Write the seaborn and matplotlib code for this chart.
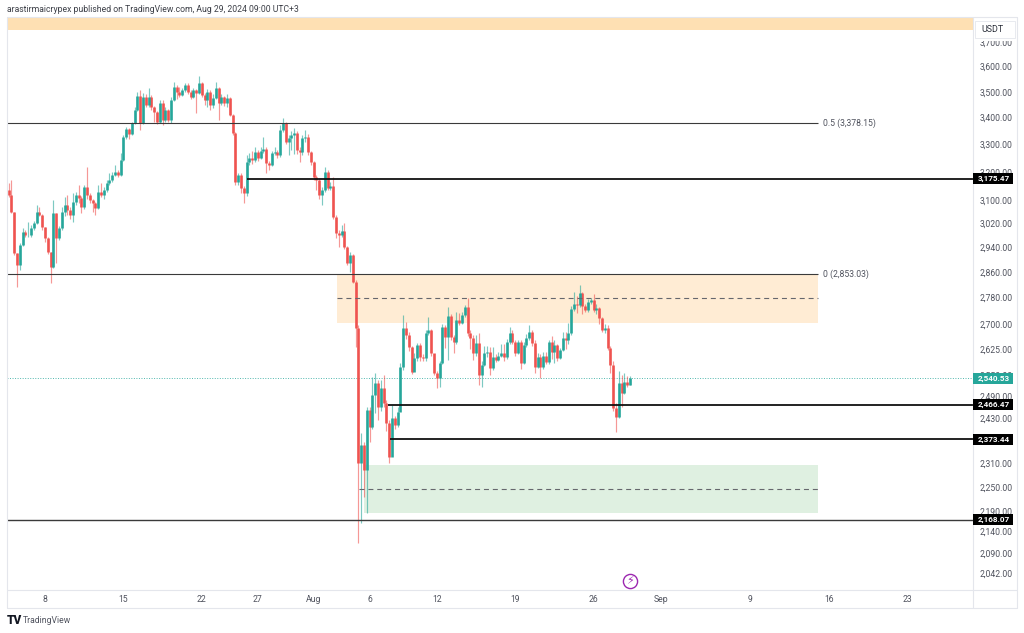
"""TradingView style ETH/USDT candlestick chart, 6h candles on a log scale"""
import pandas as pd
import matplotlib
matplotlib.use("Agg")
import matplotlib.pyplot as plt
import seaborn as sns
from matplotlib.lines import Line2D
from matplotlib.patches import Rectangle
from matplotlib.ticker import NullFormatter, NullLocator

first_open = 3136
closes = [
    3118, 3060, 2922, 2884, 2948, 2992, 2982, 2982, 3006, 3023,
    3060, 3050, 3009, 2972, 2926, 2878, 3057, 2972, 3006, 3060,
    3084, 3067, 3050, 3094, 3118, 3108, 3077, 3146, 3118, 3101,
    3091, 3074, 3129, 3118, 3136, 3160, 3171, 3189, 3200, 3189,
    3243, 3327, 3358, 3339, 3380, 3430, 3484, 3380, 3480, 3450,
    3480, 3441, 3422, 3385, 3456, 3391, 3430, 3391, 3468, 3519, 3500,
    3488, 3507, 3527, 3500, 3480, 3507, 3496, 3535, 3488, 3468,
    3500, 3450, 3476, 3515, 3456, 3480, 3456, 3476, 3411, 3343, 3164,
    3189, 3143, 3125, 3236, 3250, 3243, 3272, 3250, 3276, 3283,
    3232, 3225, 3268, 3272, 3261, 3354, 3380, 3309, 3324, 3335,
    3343, 3280, 3272, 3324, 3327, 3272, 3236, 3182, 3171, 3118,
    3136, 3200, 3143, 3150, 3043, 2989, 2982, 2995, 2942, 2890, 2916, 2830,
    2687, 2311, 2358, 2293, 2452, 2406, 2493, 2528, 2460, 2513,
    2471, 2417, 2327, 2430, 2411, 2447, 2573, 2687, 2666, 2631,
    2559, 2599, 2637, 2602, 2599, 2672, 2681, 2613, 2556, 2542,
    2584, 2690, 2660, 2724, 2660, 2646, 2712, 2703, 2727, 2751,
    2672, 2657, 2613, 2643, 2550, 2579, 2613, 2616, 2570, 2602, 2593, 2605,
    2613, 2602, 2646, 2672, 2646, 2613, 2646, 2584, 2637, 2657,
    2675, 2643, 2573, 2602, 2573, 2605, 2587, 2646, 2616, 2637,
    2599, 2622, 2657, 2652, 2672, 2745, 2761, 2758, 2795, 2755,
    2742, 2767, 2773, 2742, 2748, 2718, 2681, 2687, 2628, 2579,
    2457, 2433, 2528, 2499, 2530, 2521, 2540.53,
]
highs = [
    3160, 3171, 3060, 2922, 2955, 3006, 2998, 3026, 3015, 3030,
    3084, 3075, 3052, 3010, 2975, 2926, 3101, 3057, 3012, 3075,
    3112, 3118, 3075, 3125, 3129, 3153, 3115, 3153, 3218, 3125,
    3105, 3095, 3153, 3160, 3145, 3170, 3196, 3200, 3225, 3205,
    3268, 3335, 3365, 3360, 3385, 3440, 3500, 3507, 3495, 3490,
    3515, 3488, 3445, 3425, 3468, 3468, 3440, 3432, 3478, 3539, 3525,
    3519, 3515, 3535, 3535, 3505, 3515, 3510, 3562, 3540, 3495,
    3510, 3505, 3490, 3539, 3520, 3490, 3485, 3490, 3480, 3415, 3345,
    3196, 3195, 3150, 3260, 3268, 3275, 3290, 3280, 3290, 3327,
    3290, 3240, 3275, 3290, 3280, 3372, 3398, 3385, 3335, 3350,
    3361, 3350, 3290, 3335, 3354, 3340, 3275, 3240, 3190, 3178,
    3145, 3218, 3205, 3165, 3182, 3050, 3000, 3016, 3023, 2945, 2926, 2920,
    2835, 2695, 2389, 2365, 2460, 2460, 2545, 2556, 2535, 2536,
    2550, 2480, 2425, 2465, 2435, 2460, 2585, 2727, 2705, 2675,
    2635, 2613, 2643, 2643, 2610, 2680, 2721, 2685, 2602, 2560,
    2590, 2700, 2695, 2751, 2730, 2665, 2736, 2733, 2736, 2758,
    2779, 2680, 2665, 2665, 2672, 2590, 2635, 2635, 2631, 2632, 2610, 2615,
    2640, 2640, 2655, 2690, 2680, 2650, 2652, 2650, 2645, 2670,
    2696, 2680, 2650, 2612, 2610, 2615, 2615, 2652, 2663, 2650,
    2640, 2628, 2675, 2675, 2703, 2755, 2798, 2785, 2820, 2798,
    2760, 2775, 2780, 2792, 2760, 2750, 2722, 2700, 2695, 2635,
    2590, 2470, 2560, 2550, 2556, 2548, 2548,
]
lows = [
    3112, 3055, 2916, 2814, 2868, 2945, 2975, 2975, 2975, 3000,
    3018, 3045, 3000, 2960, 2920, 2826, 2875, 2890, 2965, 3000,
    3045, 3050, 3035, 3026, 3085, 3090, 3057, 3070, 3105, 3090,
    3060, 3050, 3070, 3110, 3105, 3130, 3155, 3165, 3185, 3182,
    3185, 3240, 3320, 3320, 3335, 3375, 3425, 3354, 3375, 3440,
    3440, 3430, 3385, 3375, 3380, 3372, 3385, 3385, 3380, 3465, 3470,
    3480, 3482, 3500, 3492, 3470, 3475, 3418, 3490, 3480, 3450,
    3441, 3430, 3437, 3470, 3391, 3450, 3445, 3441, 3405, 3335, 3155,
    3153, 3125, 3091, 3115, 3225, 3230, 3235, 3240, 3245, 3270,
    3196, 3208, 3220, 3262, 3250, 3255, 3345, 3300, 3261, 3280,
    3265, 3265, 3236, 3262, 3310, 3262, 3225, 3170, 3136, 3105,
    3084, 3130, 3135, 3136, 3035, 2972, 2942, 2975, 2935, 2885, 2862, 2825,
    2631, 2112, 2161, 2224, 2185, 2366, 2400, 2444, 2425, 2450,
    2460, 2395, 2311, 2340, 2400, 2405, 2500, 2565, 2655, 2620,
    2553, 2570, 2590, 2590, 2590, 2590, 2665, 2605, 2550, 2513,
    2515, 2580, 2628, 2593, 2650, 2613, 2640, 2695, 2698, 2720,
    2664, 2625, 2593, 2605, 2521, 2515, 2575, 2600, 2550, 2565, 2588, 2590,
    2600, 2590, 2597, 2640, 2640, 2605, 2610, 2567, 2580, 2630,
    2650, 2635, 2556, 2570, 2542, 2568, 2580, 2582, 2596, 2585,
    2590, 2595, 2618, 2625, 2640, 2665, 2740, 2733, 2750, 2730,
    2735, 2735, 2760, 2735, 2730, 2700, 2676, 2672, 2622, 2556,
    2450, 2392, 2430, 2460, 2495, 2515, 2520,
]
price_ticks = [3700, 3600, 3500, 3400, 3300, 3200, 3100, 3020, 2940, 2860, 2780, 2700,
               2625, 2550, 2490, 2430, 2310, 2250, 2190, 2140, 2090, 2042]
date_ticks = ["2024-07-08", "2024-07-15", "2024-07-22", "2024-07-27", "2024-08-01", "2024-08-06",
              "2024-08-12", "2024-08-19", "2024-08-26", "2024-09-01", "2024-09-09", "2024-09-16",
              "2024-09-23"]
date_labels = ["8", "15", "22", "27", "Aug", "6", "12", "19", "26", "Sep", "9", "16", "23"]

UP = "#26a69a"
DOWN = "#ef5350"
GREY = "#50535e"
W, H = 1024, 633


def fx(px):
    return px / W


def fy(py):
    return 1 - py / H


sns.set_theme(style="white")
plt.rcParams["font.family"] = ["Roboto", "DejaVu Sans"]

times = pd.date_range("2024-07-04 18:00", periods=len(closes), freq="6h")
opens = [first_open] + closes[:-1]
candles = pd.DataFrame({"time": times, "open": opens, "high": highs, "low": lows, "close": closes})
candles["dir"] = ["up" if c >= o else "down" for o, c in zip(opens, closes)]
candles["id"] = range(len(candles))
wicks = candles.melt(id_vars=["time", "id", "dir"], value_vars=["high", "low"], value_name="price")
bodies = candles.melt(id_vars=["time", "id", "dir"], value_vars=["open", "close"], value_name="price")

fig = plt.figure(figsize=(W / 100, H / 100), dpi=100)
ax = fig.add_axes([fx(7), fy(590), fx(973 - 7), (590 - 18) / H])
ax.set_yscale("log")

# zones
right_edge = pd.Timestamp("2024-09-15")
ax.fill_between([pd.Timestamp("2024-08-03 02:00"), right_edge], 2703, 2853.03, color="#ffecd4", lw=0, zorder=1)
ax.fill_between([pd.Timestamp("2024-08-05 12:00"), right_edge], 2185, 2306, color="#dff0e1", lw=0, zorder=1)
ax.axhspan(3750, 3802, color="#fee0b3", lw=0, zorder=1)

palette = {"up": UP, "down": DOWN}
sns.lineplot(data=wicks, x="time", y="price", hue="dir", palette=palette, units="id", estimator=None,
             lw=0.85, alpha=0.6, legend=False, solid_capstyle="butt", ax=ax, zorder=3)
sns.lineplot(data=bodies, x="time", y="price", hue="dir", palette=palette, units="id", estimator=None,
             lw=1.9, legend=False, solid_capstyle="butt", ax=ax, zorder=4)

# levels
left = pd.Timestamp("2024-07-04 14:33")
right = pd.Timestamp("2024-09-28 21:20")
ax.hlines(3378.15, left, right_edge, color="#3a3a3a", lw=0.8, zorder=5)
ax.hlines(2853.03, left, right_edge, color="#3a3a3a", lw=0.8, zorder=5)
ax.hlines(2168.07, left, right, color="#3a3a3a", lw=1.0, zorder=5)
ax.hlines(3175.47, pd.Timestamp("2024-07-26 01:00"), right, color="#111111", lw=1.3, zorder=5)
ax.hlines(2466.47, pd.Timestamp("2024-08-07 15:00"), right, color="#111111", lw=1.3, zorder=5)
ax.hlines(2373.44, pd.Timestamp("2024-08-07 19:00"), right, color="#111111", lw=1.3, zorder=5)
ax.hlines(2778, pd.Timestamp("2024-08-03 02:00"), right_edge, color="#66676d", lw=0.8, linestyles=(0, (4.5, 3.5)), zorder=5)
ax.hlines(2245, pd.Timestamp("2024-08-05 01:00"), right_edge, color="#66676d", lw=0.8, linestyles=(0, (4.5, 3.5)), zorder=5)
ax.hlines(2540.53, left, right, color=UP, lw=0.7, alpha=0.8, linestyles=(0, (1, 1.6)), zorder=2)

ax.set_xlim(left, right)
ax.set_ylim(2004.6, 3801)
ax.yaxis.set_minor_locator(NullLocator())
ax.yaxis.set_minor_formatter(NullFormatter())
ax.yaxis.tick_right()
ax.set_yticks(price_ticks, [f"{p:,.2f}" for p in price_ticks])
ax.set_xticks(pd.to_datetime(date_ticks), date_labels)
ax.tick_params(axis="y", length=0, pad=4.5, labelsize=6.2, labelcolor=GREY)
ax.tick_params(axis="x", length=0, pad=3.8, labelsize=6.2, labelcolor=GREY)
ax.set_xlabel("")
ax.set_ylabel("")
sns.despine(ax=ax, left=True, bottom=True, right=True, top=True)

# fib labels
label_x = pd.Timestamp("2024-09-15 12:00")
ax.text(label_x, 3378.15, "0.5 (3,378.15)", fontsize=6.2, color=GREY, va="center", zorder=6)
ax.text(label_x, 2853.03, "0 (2,853.03)", fontsize=6.2, color=GREY, va="center", zorder=6)

# frame around the chart
frame = "#e4e6ec"
for xs, ys in [([6.5, 6.5], [17, 608]), ([1017, 1017], [17, 608]), ([6.5, 1017], [17, 17]),
               ([6.5, 1017], [608, 608]), ([6.5, 1017], [590, 590]), ([973, 973], [17, 608])]:
    fig.add_artist(Line2D([fx(x) for x in xs], [fy(y) for y in ys], color=frame, lw=0.8,
                          transform=fig.transFigure, zorder=4))

# price tags on the axis
tr = ax.get_yaxis_transform()
for value, bg in [(3175.47, "#000000"), (2466.47, "#000000"), (2373.44, "#000000"),
                  (2168.07, "#000000"), (2540.53, UP)]:
    tag_y = tr.transform((1.0, value))[1] / H
    fig.add_artist(Rectangle((fx(973), tag_y - 5.5 / H), 40 / W, 11 / H, fc=bg, ec="none",
                             transform=fig.transFigure, zorder=5))
    fig.text(fx(978), tag_y, f"{value:,.2f}", fontsize=5.9, color="white", weight="bold",
             va="center", ha="left", zorder=6)

# USDT button, it hides the top of the 3,700 tick
fig.add_artist(Rectangle((fx(974), fy(41)), 42 / W, 5 / H, fc="white", ec="none",
                         transform=fig.transFigure, zorder=5))
fig.add_artist(Rectangle((fx(975), fy(38)), 40 / W, 17 / H, fc="white", ec="#e4e6ec", lw=0.6,
                         transform=fig.transFigure, zorder=5))
fig.text(fx(981), fy(30), "USDT", fontsize=6.4, color="#2a2e39", va="center", zorder=6)

# lightning marker
fig.add_artist(Line2D([fx(630)], [fy(581)], marker="o", ms=10.2, mfc="white", mec="#9c27b0", mew=1.0,
                      transform=fig.transFigure, zorder=5))
fig.text(fx(630), fy(581), "\u26a1", fontsize=8, color="#9c27b0", ha="center", va="center",
         family="DejaVu Sans", zorder=6)

fig.text(fx(7), fy(10), "arastirmaicrypex published on TradingView.com, Aug 29, 2024 09:00 UTC+3",
         fontsize=6.2, color="#3c3f47", va="center")
fig.text(fx(7), fy(620), "TV", fontsize=8.5, color="#131722", weight="black", va="center")
fig.text(fx(23), fy(620.5), "TradingView", fontsize=6.2, color="#50535e", va="center")

fig.savefig("out.png", dpi=100)
